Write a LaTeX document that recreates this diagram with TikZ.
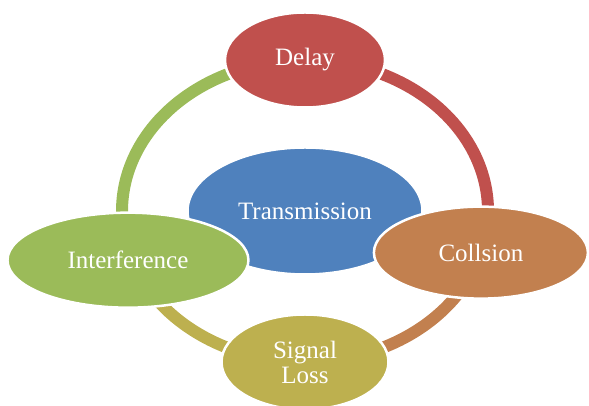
\documentclass[tikz,border=0pt]{standalone}
\usepackage{fontspec}
\setmainfont{Liberation Serif}
\usetikzlibrary{shapes.geometric}

\definecolor{delayred}{HTML}{C0504D}
\definecolor{collorange}{HTML}{C2804F}
\definecolor{lossolive}{HTML}{BDB04F}
\definecolor{intfgreen}{HTML}{9BBB59}
\definecolor{transblue}{HTML}{4F81BD}

\tikzset{
  blob/.style={ellipse, draw=white, line width=2.5pt, text=white, inner sep=0pt,
    align=center, font=\fontsize{25}{25}\selectfont},
  ringarc/.style={line width=12pt},
}

\begin{document}
\begin{tikzpicture}[x=1pt,y=1pt]
\useasboundingbox (0,0) rectangle (589,406);
\coordinate (ring) at (305,195);
% spots on the ring
\path (ring) ++(90:183 and 151) coordinate (pd);
\path (ring) ++(-16:183 and 151) coordinate (pc);
\path (ring) ++(-90:183 and 151) coordinate (ps);
\path (ring) ++(199:183 and 151) coordinate (pi);

% ring pieces, under the ellipses
\draw[ringarc, draw=delayred] (pd) arc[start angle=90, end angle=-16, x radius=183, y radius=151];
\draw[ringarc, draw=collorange] (pc) arc[start angle=-16, end angle=-90, x radius=183, y radius=151];
\draw[ringarc, draw=lossolive] (ps) arc[start angle=-90, end angle=-161, x radius=183, y radius=151];
\draw[ringarc, draw=intfgreen] (pi) arc[start angle=199, end angle=90, x radius=183, y radius=151];

\node[blob, fill=transblue, minimum width=235, minimum height=127] (trans) at (ring) {Transmission};
\node[blob, fill=delayred, minimum width=160, minimum height=95] (delay) at (pd) {Delay};
\node[blob, fill=lossolive, minimum width=167, minimum height=95] (loss) at (ps) {Signal\\Loss};
\node[blob, fill=collorange, minimum width=214, minimum height=92] (coll) at (pc) {Collsion};
\node[blob, fill=intfgreen, minimum width=241, minimum height=95, xshift=-4] (intf) at (pi) {Interference};
\end{tikzpicture}
\end{document}
